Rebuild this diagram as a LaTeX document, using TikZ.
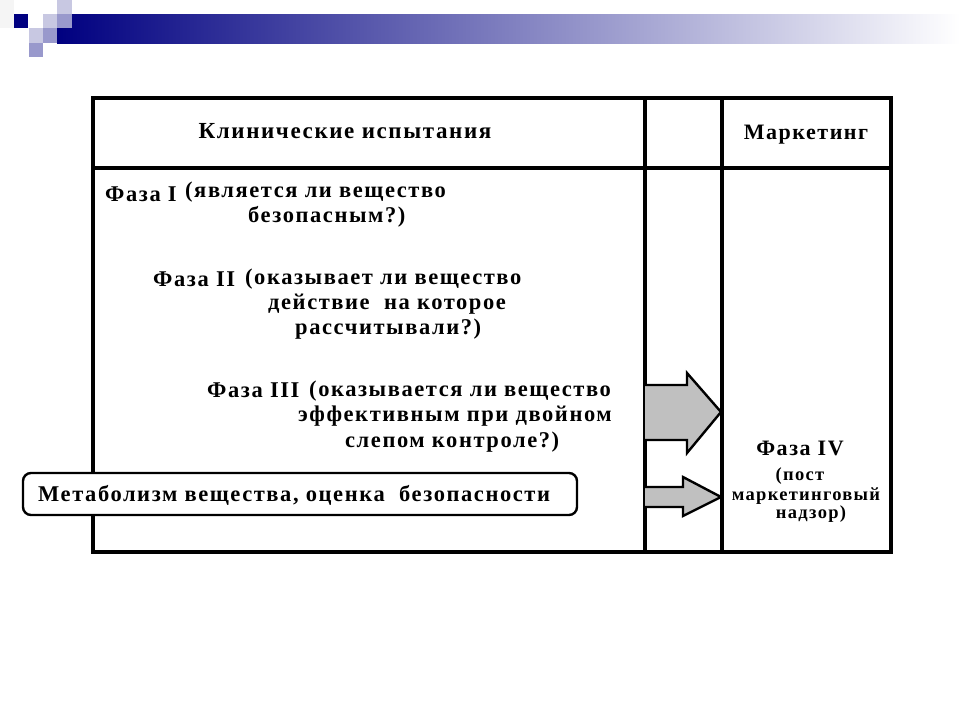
\documentclass[tikz,border=0pt]{standalone}
\usepackage{fontspec}
\setmainfont{Liberation Serif}[LetterSpace=7]
\usepackage{tikz}

\definecolor{navy}{HTML}{000080}
\definecolor{lilac}{HTML}{C8C8E2}
\definecolor{midlilac}{HTML}{9999CC}
\definecolor{arrowgray}{HTML}{C0C0C0}

\begin{document}
\begin{tikzpicture}[x=1pt,y=-1pt,
    tbl/.style={line width=3.2pt},
    phase/.style={anchor=base west,inner sep=0pt,font=\bfseries\fontsize{22.5}{26}\selectfont},
    small/.style={anchor=base,inner sep=0pt,font=\bfseries\fontsize{18.5}{22}\selectfont},
    big/.style={anchor=base,inner sep=0pt,font=\bfseries\fontsize{23}{27}\selectfont},
    blockarrow/.style={fill=arrowgray,draw=black,line width=2.4pt,line join=miter}]
                \useasboundingbox (0,0) rectangle (960,720);
                
                % title bar
                \shade[left color=navy,middle color={rgb,255:red,96;green,96;blue,168},right color=white]
                (57,14) rectangle (960,43);
                \fill[black!4] (0,0) rectangle (14,28);
                \fill[navy] (14,14) rectangle (28,28);
                \fill[lilac] (43,14) rectangle (57,28);
                \fill[lilac] (57,0) rectangle (72,14);
                \fill[midlilac] (57,14) rectangle (72,28);
                \fill[lilac] (29,28) rectangle (43,43);
                \fill[midlilac] (43,28) rectangle (57,43);
                \fill[midlilac] (29,43) rectangle (43,57);
                
                % table
                \draw[tbl] (93,98) rectangle (891,552);
                \draw[tbl] (93,168) -- (891,168);
                \draw[tbl] (645,98) -- (645,552);
                \draw[tbl] (722,98) -- (722,552);
                
                \node[big] (clinical) at (345,138) {Клинические испытания};
                \node[big,font=\bfseries\fontsize{22}{26}\selectfont] (marketing) at (806,139) {Маркетинг};
                
                % phase I
                \node[phase] (phaseone) at (105,201) {Фаза I};
                \node[phase] (phaseonea) at (185,197) {(является ли вещество};
                \node[phase] (phaseoneb) at (248,222) {безопасным?)};
                
                % phase II
                \node[phase] (phasetwo) at (153,286) {Фаза II};
                \node[phase] (phasetwoa) at (245,284) {(оказывает ли вещество};
                \node[phase] (phasetwob) at (268,309) {действие\ \ на которое};
                \node[phase] (phasetwoc) at (295,334) {рассчитывали?)};
                
                % phase III
                \node[phase] (phasethree) at (207,397) {Фаза III};
                \node[phase] (phasethreea) at (309,396) {(оказывается ли вещество};
                \node[phase] (phasethreeb) at (298,421) {эффективным при двойном};
                \node[phase] (phasethreec) at (345,447) {слепом контроле?)};
                
                % phase IV
                \node[big,font=\bfseries\fontsize{22}{26}\selectfont] (phasefour) at (800,455) {Фаза IV};
                \node[small] (phasefoura) at (800,480) {(пост};
                \node[small] (phasefourb) at (806,500) {маркетинговый};
                \node[small] (phasefourc) at (811,518) {надзор)};
                
                % arrows
                \draw[blockarrow] (645,385) -- (687,385) -- (687,373) -- (721,412)
                -- (687,453) -- (687,440) -- (645,440);
                \draw[blockarrow] (645,487) -- (683,487) -- (683,477) -- (721,497)
                -- (683,516) -- (683,507) -- (645,507);
                
                % metabolism box
                \draw[fill=white,line width=2.4pt,rounded corners=8pt] (23,473) rectangle (577,515);
                \node[phase] (metabolism) at (38,501) {Метаболизм вещества, оценка\ \ безопасности};
            \end{tikzpicture}
\end{document}
